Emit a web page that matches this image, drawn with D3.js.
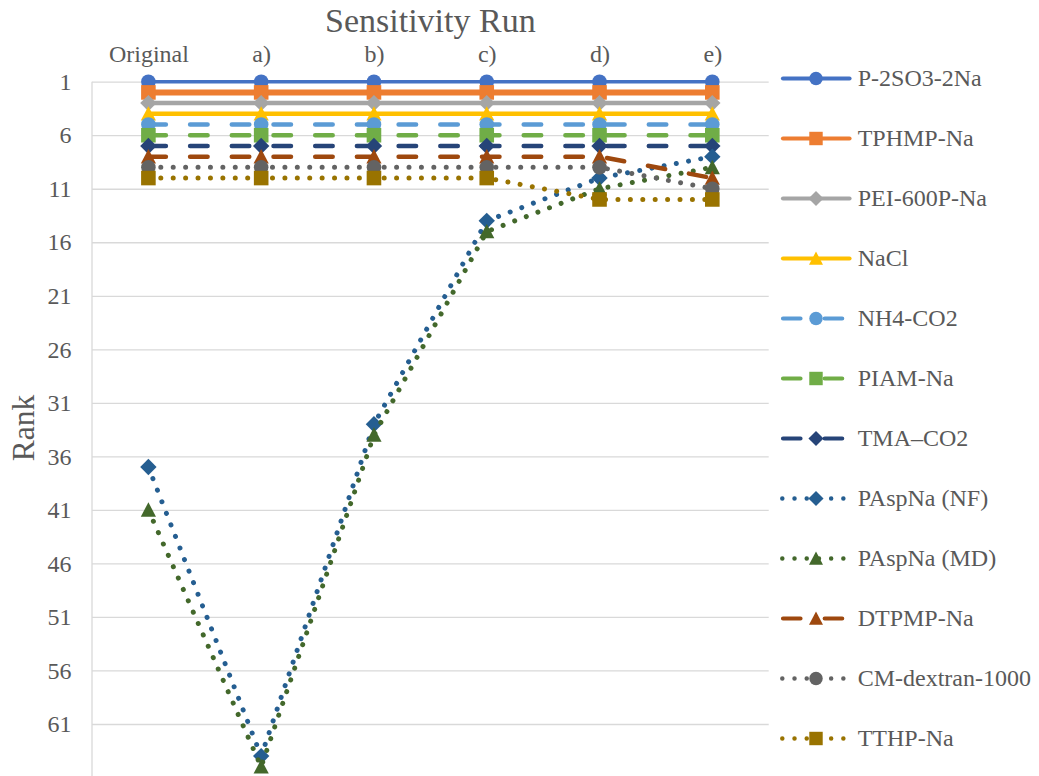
<!DOCTYPE html>
<html>
<head>
<meta charset="utf-8">
<script src="https://cdn.jsdelivr.net/npm/d3@7"></script>
<style>
  body { margin: 0; background: #fff; }
  svg { display: block; }
  svg text { font-family: "Liberation Serif", "Times New Roman", Tinos, "Nimbus Roman", "DejaVu Serif", serif !important; fill: #595959; }
</style>
</head>
<body>
<svg id="chart" width="1039" height="776"></svg>
<script>
// ---- data ----
const runs = ["Original", "a)", "b)", "c)", "d)", "e)"];
const rankTicks = [1, 6, 11, 16, 21, 26, 31, 36, 41, 46, 51, 56, 61];

const seriesNames = [
  "P-2SO3-2Na", "TPHMP-Na", "PEI-600P-Na", "NaCl", "NH4-CO2", "PIAM-Na",
  "TMA\u2013CO2", "PAspNa (NF)", "PAspNa (MD)", "DTPMP-Na", "CM-dextran-1000", "TTHP-Na"
];
const p2so3Na    = [1, 1, 1, 1, 1, 1];
const tphmpNa    = [2, 2, 2, 2, 2, 2];
const pei600pNa  = [3, 3, 3, 3, 3, 3];
const naCl       = [4, 4, 4, 4, 4, 4];
const nh4Co2     = [5, 5, 5, 5, 5, 5];
const piamNa     = [6, 6, 6, 6, 6, 6];
const tmaCo2     = [7, 7, 7, 7, 7, 7];
const paspNaNF   = [37, 64, 33, 14, 10, 8];
const paspNaMD   = [41, 65, 34, 15, 11, 9];
const dtpmpNa    = [8, 8, 8, 8, 8, 10];
const cmDextran  = [9, 9, 9, 9, 9, 11];
const tthpNa     = [10, 10, 10, 10, 12, 12];
const seriesValues = [p2so3Na, tphmpNa, pei600pNa, naCl, nh4Co2, piamNa,
                      tmaCo2, paspNaNF, paspNaMD, dtpmpNa, cmDextran, tthpNa];

// ---- look of each series (colour, line type, marker, line width) ----
const seriesStyle = [
  { color: "#4472C4", dash: "solid",  marker: "circle",   width: 3.5 },
  { color: "#ED7D31", dash: "solid",  marker: "square",   width: 6 },
  { color: "#A5A5A5", dash: "solid",  marker: "diamond",  width: 4.5 },
  { color: "#FFC000", dash: "solid",  marker: "triangle", width: 4.5 },
  { color: "#5B9BD5", dash: "dash",   marker: "circle",   width: 4.5 },
  { color: "#70AD47", dash: "dash",   marker: "square",   width: 4.5 },
  { color: "#264478", dash: "dash",   marker: "diamond",  width: 4.5 },
  { color: "#255E91", dash: "dot",    marker: "diamond",  width: 5 },
  { color: "#43682B", dash: "dot",    marker: "triangle", width: 5 },
  { color: "#9E480E", dash: "dash",   marker: "triangle", width: 4.5 },
  { color: "#636363", dash: "dot",    marker: "circle",   width: 5 },
  { color: "#997300", dash: "dot",    marker: "square",   width: 5 }
];
const dashArrays = { solid: null, dash: "17.5,24.2", dot: "0.01,12.4" };
const serif = "'Liberation Serif','Times New Roman',Tinos,'Nimbus Roman','DejaVu Serif',serif";

// ---- layout ----
const svg = d3.select("#chart");
const plot = { left: 92, right: 768.7, top: 81.7, bottom: 777.5 };

const x = d3.scalePoint().domain(runs).range([plot.left, plot.right]).padding(0.5);
const y = d3.scaleLinear().domain([1, 66]).range([plot.top, plot.bottom]);

// gridlines + rank labels
const yAxis = svg.append("g")
  .attr("transform", `translate(${plot.left},0)`)
  .call(d3.axisLeft(y).tickValues(rankTicks).tickSize(-(plot.right - plot.left)).tickPadding(20.5));
yAxis.attr("font-family", serif);
yAxis.select(".domain").remove();
yAxis.selectAll(".tick line").attr("stroke", "#D9D9D9").attr("stroke-width", 1.3);
yAxis.selectAll(".tick text").attr("font-size", 24).attr("fill", "#595959");

// vertical axis line
svg.append("line")
  .attr("x1", plot.left).attr("x2", plot.left)
  .attr("y1", plot.top).attr("y2", plot.bottom)
  .attr("stroke", "#D9D9D9").attr("stroke-width", 1.3);

// run labels along the top
const xAxis = svg.append("g")
  .attr("transform", `translate(0,${plot.top})`)
  .call(d3.axisTop(x).tickSize(0).tickPadding(19.7));
xAxis.attr("font-family", serif);
xAxis.select(".domain").remove();
xAxis.selectAll(".tick text").attr("font-size", 24).attr("fill", "#595959");

// titles
svg.append("text")
  .attr("x", (plot.left + plot.right) / 2).attr("y", 32)
  .attr("text-anchor", "middle").attr("font-size", 34)
  .attr("font-family", serif)
  .text("Sensitivity Run");

svg.append("text")
  .attr("transform", "translate(33.5,428) rotate(-90)")
  .attr("text-anchor", "middle").attr("font-size", 31.5)
  .attr("font-family", serif)
  .text("Rank");

// ---- marker shapes ----
function markerPath(kind) {
  switch (kind) {
    case "circle":   return d3.symbol(d3.symbolCircle, Math.PI * 7.3 * 7.3)();
    case "square":   return "M-7.3,-7.3H7.3V7.3H-7.3Z";
    case "diamond":  return "M0,-8.2L8.2,0L0,8.2L-8.2,0Z";
    case "triangle": return "M0,-7.6L7.6,6.8L-7.6,6.8Z";
  }
}

const line = d3.line()
  .x((d, i) => x(runs[i]))
  .y(d => y(d));

// ---- series, drawn in order so later ones sit on top ----
const seriesG = svg.append("g");
seriesValues.forEach((vals, s) => {
  const st = seriesStyle[s];
  const g = seriesG.append("g");
  g.append("path")
    .datum(vals)
    .attr("d", line)
    .attr("fill", "none")
    .attr("stroke", st.color)
    .attr("stroke-width", st.width)
    .attr("stroke-linecap", "round")
    .attr("stroke-linejoin", "round")
    .attr("stroke-dasharray", dashArrays[st.dash]);
  g.selectAll("path.mk")
    .data(vals)
    .join("path")
    .attr("class", "mk")
    .attr("d", markerPath(st.marker))
    .attr("transform", (d, i) => `translate(${x(runs[i])},${y(d)})`)
    .attr("fill", st.color);
});

// ---- legend ----
const legend = svg.append("g").attr("font-family", serif);
const legendTop = 78.5, legendStep = 60;
seriesNames.forEach((name, s) => {
  const st = seriesStyle[s];
  const cy = legendTop + legendStep * s;
  const g = legend.append("g").attr("transform", `translate(0,${cy})`);
  let x1 = 783, x2 = 849.5;
  if (st.dash === "dash") { x1 = 783; x2 = 842.6; }
  if (st.dash === "dot")  { x1 = 782.3; x2 = 845; }
  g.append("line")
    .attr("x1", x1).attr("x2", x2).attr("y1", 0).attr("y2", 0)
    .attr("stroke", st.color)
    .attr("stroke-width", st.dash === "dot" ? 4.5 : 4.2)
    .attr("stroke-linecap", "round")
    .attr("stroke-dasharray", st.dash === "dot" ? "0.01,12.2" : dashArrays[st.dash]);
  g.append("path")
    .attr("d", markerPath(st.marker))
    .attr("transform", "translate(816,0) scale(0.92)")
    .attr("fill", st.color);
  g.append("text")
    .attr("x", 857.7).attr("y", 7.9)
    .attr("font-size", 24)
    .text(name);
});
</script>
</body>
</html>
